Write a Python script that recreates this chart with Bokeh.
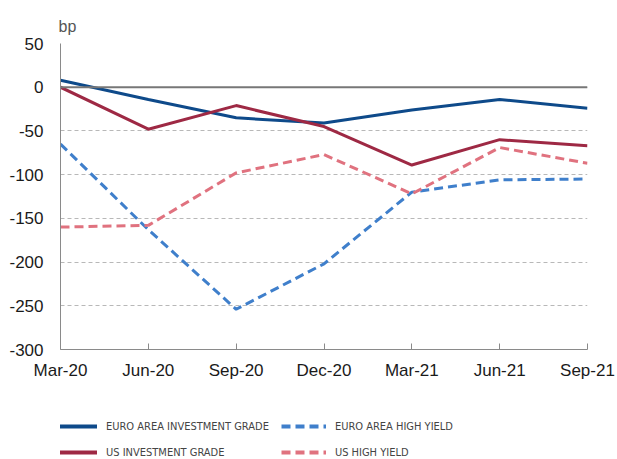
from bokeh.plotting import figure
from bokeh.layouts import column
from bokeh.models import Span, FixedTicker, Legend, LegendItem
from bokeh.embed import file_html
from bokeh.resources import INLINE

quarters = ["Mar-20", "Jun-20", "Sep-20", "Dec-20", "Mar-21", "Jun-21", "Sep-21"]
euro_ig = [8, -14, -35, -41, -26, -14, -24]
us_ig = [0, -48, -21, -45, -89, -60, -67]
euro_hy = [-65, -163, -254, -202, -120, -106, -105]
us_hy = [-160, -158, -98, -77, -122, -69, -87]
y_ticks = [50, 0, -50, -100, -150, -200, -250, -300]

x = list(range(len(quarters)))
FONT = "Liberation Sans"

p = figure(width=617, height=390, output_backend="svg", toolbar_location=None,
           x_range=(0, 6), y_range=(-300, 50), title="bp",
           min_border_left=60, min_border_right=30, min_border_top=43, min_border_bottom=41)
p.outline_line_color = None
p.title.text_font = FONT
p.title.text_font_size = "16px"
p.title.text_font_style = "normal"
p.title.text_color = "#555555"
p.title.align = "left"
p.title.offset = -2
p.title.standoff = 18

p.xaxis.ticker = FixedTicker(ticks=x)
p.xaxis.major_label_overrides = {i: q for i, q in enumerate(quarters)}
p.xaxis.major_tick_in = 6
p.xaxis.major_tick_out = 0
p.xaxis.minor_tick_line_color = None
p.xaxis.axis_line_color = "#8a8a8a"
p.xaxis.major_tick_line_color = "#8a8a8a"
p.xaxis.major_label_text_font = FONT
p.xaxis.major_label_text_font_size = "17px"
p.xaxis.major_label_text_color = "#1a1a1a"
p.xaxis.major_label_standoff = 11

p.yaxis.ticker = FixedTicker(ticks=y_ticks)
p.yaxis.major_label_overrides = {t: str(t) for t in y_ticks}
p.yaxis.major_tick_in = 0
p.yaxis.major_tick_out = 0
p.yaxis.minor_tick_line_color = None
p.yaxis.axis_line_color = "#8a8a8a"
p.yaxis.major_label_text_font = FONT
p.yaxis.major_label_text_font_size = "17px"
p.yaxis.major_label_text_color = "#1a1a1a"
p.yaxis.major_label_standoff = 17

p.xgrid.grid_line_color = None
p.ygrid.grid_line_color = "#b8b8b8"
p.ygrid.grid_line_dash = "4 3"
p.ygrid.grid_line_width = 1

p.add_layout(Span(location=0, dimension="width", line_color="#777777", line_width=2))

styles = [
    ("EURO AREA INVESTMENT GRADE", euro_ig, "#0e4a8a", "solid"),
    ("US INVESTMENT GRADE", us_ig, "#9e2944", "solid"),
    ("EURO AREA HIGH YIELD", euro_hy, "#3f7fcb", "9 5"),
    ("US HIGH YIELD", us_hy, "#e0727f", "9 5"),
]
for name, ys, col, dash in styles:
    p.line(x, ys, line_color=col, line_width=3, line_dash=dash)

# legend panel (series drawn outside its visible range; only the legend shows)
lf = figure(width=617, height=69, output_backend="svg", toolbar_location=None,
            x_range=(100, 101), y_range=(1000, 1001), min_border=0)
lf.outline_line_color = None
lf.axis.visible = False
lf.grid.visible = False
items = []
for name, ys, col, dash in styles:
    r = lf.line(x, ys, line_color=col, line_width=4, line_dash=dash)
    items.append(LegendItem(label=name, renderers=[r]))
legend = Legend(items=items, ncols=2, location=(-8, 0))
legend.label_text_font = "DejaVu Sans Condensed"
legend.label_text_font_size = "11px"
legend.label_text_color = "#444444"
legend.glyph_width = 45
legend.glyph_height = 14
legend.label_standoff = 9
legend.spacing = 12
legend.padding = 0
legend.margin = 0
legend.border_line_color = None
legend.background_fill_alpha = 0
legend.label_height = 14
lf.add_layout(legend, "center")

layout = column(p, lf, spacing=0)
open("out.html", "w").write(file_html(layout, INLINE))
